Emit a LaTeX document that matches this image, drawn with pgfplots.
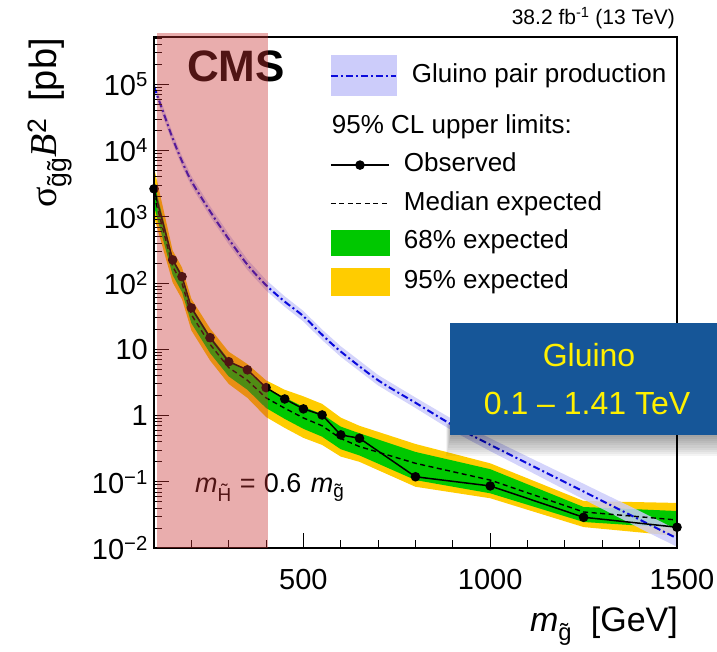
\documentclass[border=0pt]{standalone}
\usepackage{fontspec}
\setmainfont{Liberation Sans}
\newfontfamily\serif{Liberation Serif}
\usepackage{pgfplots}
\usepackage{pgfplotstable}
\pgfplotsset{compat=1.18}

\definecolor{band68}{RGB}{0,200,0}
\definecolor{band95}{RGB}{255,204,0}
\definecolor{xsecband}{RGB}{204,204,250}
\definecolor{xsecline}{RGB}{10,10,220}
\definecolor{veil}{RGB}{200,50,50}
\definecolor{slideblue}{RGB}{22,86,152}
\definecolor{slideyellow}{RGB}{255,240,0}

% observed 95% CL upper limit [pb]
\pgfplotstableread{
m     obs
100   2650
150   224
175   125
200   42.2
250   15.0
300   6.5
350   4.9
400   2.64
450   1.78
500   1.26
550   1.02
600   0.51
650   0.454
800   0.119
1000  0.0865
1250  0.0291
1500  0.0206
}\observed

% median expected limit [pb]
\pgfplotstableread{
m     med
100   2150
150   178
175   99
200   33.5
250   11.9
300   5.3
350   3.4
400   1.85
450   1.29
500   0.92
550   0.70
600   0.45
650   0.34
800   0.19
1000  0.106
1250  0.035
1500  0.0265
}\median

% 95% expected interval: upper edge up in mass, lower edge back down
\pgfplotstableread{
m     v
100   5600
150   310
175   172
200   58
250   20.7
300   9.2
350   6.0
400   3.4
450   2.45
500   1.95
550   1.5
600   0.93
650   0.70
800   0.372
1000  0.19
1250  0.0513
1500  0.0479
1500  0.0152
1250  0.0207
1000  0.0564
800   0.084
650   0.20
600   0.24
550   0.36
500   0.46
450   0.65
400   0.95
350   1.85
300   3.0
250   6.8
200   19.3
175   57
150   102
100   1000
}\bandtwo

% 68% expected interval, same ordering
\pgfplotstableread{
m     v
100   3400
150   240
175   134
200   45
250   16
300   7.0
350   4.6
400   2.6
450   1.87
500   1.35
550   1.05
600   0.68
650   0.54
800   0.282
1000  0.155
1250  0.0416
1500  0.0362
1500  0.020
1250  0.0247
1000  0.067
800   0.106
650   0.25
600   0.31
550   0.48
500   0.63
450   0.89
400   1.3
350   2.45
300   3.9
250   8.8
200   24.8
175   73
150   132
100   1450
}\bandone

% gluino pair production cross section [pb]
\pgfplotstableread{
m     xs
100   93000
125   37800
150   15300
175   6900
200   3470
250   1216
300   462
350   190
400   93
450   52.5
500   31.6
550   16.6
600   9.25
700   3.41
800   1.56
900   0.713
1000  0.362
1100  0.189
1200  0.0986
1300  0.0514
1400  0.0268
1500  0.0140
}\xsec

% its theory uncertainty band
\pgfplotstableread{
m     v
100   111600
125   45400
150   18360
175   8280
200   4160
250   1459
300   554
350   228
400   111.6
450   63
500   37.9
550   19.9
600   11.1
700   4.09
800   1.87
900   0.873
1000  0.4525
1100  0.240
1200  0.128
1300  0.0679
1400  0.0362
1500  0.0189
1500  0.0104
1400  0.0199
1300  0.0389
1200  0.0758
1100  0.149
1000  0.29
900   0.582
800   1.3
700   2.84
600   7.7
550   13.8
500   26.3
450   43.8
400   77.5
350   158
300   385
250   1013
200   2890
175   5750
150   12750
125   31500
100   77500
}\xsecband

\begin{document}
\begin{tikzpicture}

\begin{axis}[
  at={(154pt,104pt)}, anchor=south west,
  width=523pt, height=511pt, scale only axis,
  xmin=100, xmax=1500,
  ymode=log, ymin=1e-2, ymax=5.2e5,
  xtick={500,1000,1500},
  xticklabels={500,1000,\hspace*{10pt}1500},
  minor xtick={200,300,400,600,700,800,900,1100,1200,1300,1400},
  ytick={1e-2,1e-1,1,10,1e2,1e3,1e4,1e5},
  yticklabels={10\textsuperscript{−2},10\textsuperscript{−1},1,10,10\textsuperscript{2},10\textsuperscript{3},10\textsuperscript{4},10\textsuperscript{5}},
  minor ytick={2e-2,3e-2,4e-2,5e-2,6e-2,7e-2,8e-2,9e-2,
               2e-1,3e-1,4e-1,5e-1,6e-1,7e-1,8e-1,9e-1,
               2,3,4,5,6,7,8,9,
               20,30,40,50,60,70,80,90,
               200,300,400,500,600,700,800,900,
               2e3,3e3,4e3,5e3,6e3,7e3,8e3,9e3,
               2e4,3e4,4e4,5e4,6e4,7e4,8e4,9e4,
               2e5,3e5,4e5,5e5},
  xtick pos=bottom, ytick pos=left, tick align=inside,
  major tick length=15pt, minor tick length=8pt,
  every tick/.append style={draw=black, line width=1pt},
  axis line style={black, line width=1.2pt},
  axis on top,
  tick label style={font=\fontsize{29}{29}\selectfont},
  xticklabel style={anchor=north, inner sep=0pt, yshift=-21pt},
  yticklabel style={anchor=east, inner sep=0pt, xshift=-6pt},
  clip=false,
  legend cell align=left,
  legend style={
    at={(axis description cs:0.3365,0.964)}, anchor=north west,
    draw=none, fill=none, inner sep=0pt, outer sep=0pt,
    font=\fontsize{26}{30}\selectfont,
    row sep=13.5pt, column sep=7pt,
    nodes={inner sep=0pt, text height=19pt, text depth=6pt},
  },
]

% legend entries
\addlegendimage{legend image code/.code={
  \path[draw=none, fill=none] (0pt,-25pt) rectangle (1pt,20pt);
  \fill[xsecband] (0pt,-20pt) rectangle (65pt,20pt);
  \draw[xsecline, line width=2pt, dash pattern=on 7pt off 3pt on 2pt off 3pt] (0pt,0pt) -- (65pt,0pt);}}
\addlegendentry{\hspace*{8pt}Gluino pair production}
\addlegendimage{empty legend}
\addlegendentry{\hspace*{-72pt}95\% CL upper limits:}
\addlegendimage{legend image code/.code={
  \draw[black, line width=1.5pt, mark=*, mark size=4pt, mark repeat=2, mark phase=2]
    plot coordinates {(0pt,0pt) (29pt,0pt) (58pt,0pt)};}}
\addlegendentry{Observed}
\addlegendimage{legend image code/.code={
  \draw[black, line width=1.4pt, dash pattern=on 5pt off 3.5pt] (0pt,0pt) -- (58pt,0pt);}}
\addlegendentry{Median expected}
\addlegendimage{legend image code/.code={\fill[band68] (0pt,-12.5pt) rectangle (58pt,12.5pt);}}
\addlegendentry{68\% expected}
\addlegendimage{legend image code/.code={\fill[band95] (0pt,-13.5pt) rectangle (58pt,13.5pt);}}
\addlegendentry{95\% expected}

% expected bands
\addplot[fill=band95, draw=none, forget plot] table[x=m, y=v] {\bandtwo} -- cycle;
\addplot[fill=band68, draw=none, forget plot] table[x=m, y=v] {\bandone} -- cycle;

% theory band and central value
\addplot[fill=xsecband, fill opacity=0.85, draw=none, forget plot] table[x=m, y=v] {\xsecband} -- cycle;
\addplot[xsecline, line width=2pt, smooth, dash pattern=on 7pt off 3pt on 2pt off 3pt, forget plot]
  table[x=m, y=xs] {\xsec};

% median expected and observed limits
\addplot[black, line width=1.4pt, dash pattern=on 5pt off 3.5pt, forget plot]
  table[x=m, y=med] {\median};
\addplot[black, line width=1.5pt, mark=*, mark size=4pt, forget plot]
  table[x=m, y=obs] {\observed};

% inward tick marks along the left and bottom axes
\pgfplotsinvokeforeach{0.01,0.1,1,10,100,1000,10000,100000}{
  \draw[black, line width=1pt] (axis cs:100,#1) -- ++(15pt,0pt);}
\pgfplotsinvokeforeach{0.02,0.03,0.04,0.05,0.06,0.07,0.08,0.09,
  0.2,0.3,0.4,0.5,0.6,0.7,0.8,0.9,2,3,4,5,6,7,8,9,
  20,30,40,50,60,70,80,90,200,300,400,500,600,700,800,900,
  2000,3000,4000,5000,6000,7000,8000,9000,
  20000,30000,40000,50000,60000,70000,80000,90000,
  200000,300000,400000,500000}{
  \draw[black, line width=1pt] (axis cs:100,#1) -- ++(8pt,0pt);}
\pgfplotsinvokeforeach{500,1000}{
  \draw[black, line width=1pt] (axis cs:#1,0.01) -- ++(0pt,15pt);}
\pgfplotsinvokeforeach{200,300,400,600,700,800,900,1100,1200,1300,1400}{
  \draw[black, line width=1pt] (axis cs:#1,0.01) -- ++(0pt,8pt);}
\end{axis}

% labels
\node[rotate=90, anchor=base east, inner sep=0pt, font=\fontsize{38}{38}\selectfont]
  at (56pt,614pt) {{\serif σ}\textsubscript{\~{g}\~{g}}{\serif\itshape B}\textsuperscript{2}\hspace{0.45em}[pb]};
\node[anchor=base east, inner sep=0pt, font=\fontsize{34}{34}\selectfont]
  at (678pt,20pt) {{\itshape m}\textsubscript{\~{g}}\hspace{0.55em}[GeV]};
\node[anchor=base east, inner sep=0pt, font=\fontsize{21}{21}\selectfont]
  at (675pt,627pt) {38.2 fb\textsuperscript{-1} (13 TeV)};
\node[anchor=base west, inner sep=0pt, font=\fontsize{44}{44}\selectfont\bfseries, text=black]
  at (187pt,570pt) {CMS};
\node[anchor=base west, inner sep=0pt, font=\fontsize{27}{27}\selectfont]
  at (195pt,159pt) {{\itshape m}\textsubscript{\~{H}}\hspace{0.3em}=\hspace{0.3em}0.6\hspace{0.35em}{\itshape m}\textsubscript{\~{g}}};

% highlighted low-mass region
\fill[veil, opacity=0.4] (157pt,104pt) rectangle (268pt,619pt);

% summary box with a soft shadow underneath
\foreach \k in {1,...,10}
  \fill[black, opacity=0.045] (451pt-0.5*\k pt, 217pt-2.1*\k pt) rectangle (717pt, 228pt);
\fill[slideblue] (450pt,217pt) rectangle (717pt,329pt);
\node[anchor=base, inner sep=0pt, text=slideyellow, font=\fontsize{32}{32}\selectfont]
  at (589pt,285pt) {Gluino};
\node[anchor=base, inner sep=0pt, text=slideyellow, font=\fontsize{32}{32}\selectfont]
  at (587pt,237pt) {0.1 – 1.41 TeV};

% page extent
\pgfresetboundingbox
\path (0pt,0pt) rectangle (717pt,652pt);
\end{tikzpicture}
\end{document}
